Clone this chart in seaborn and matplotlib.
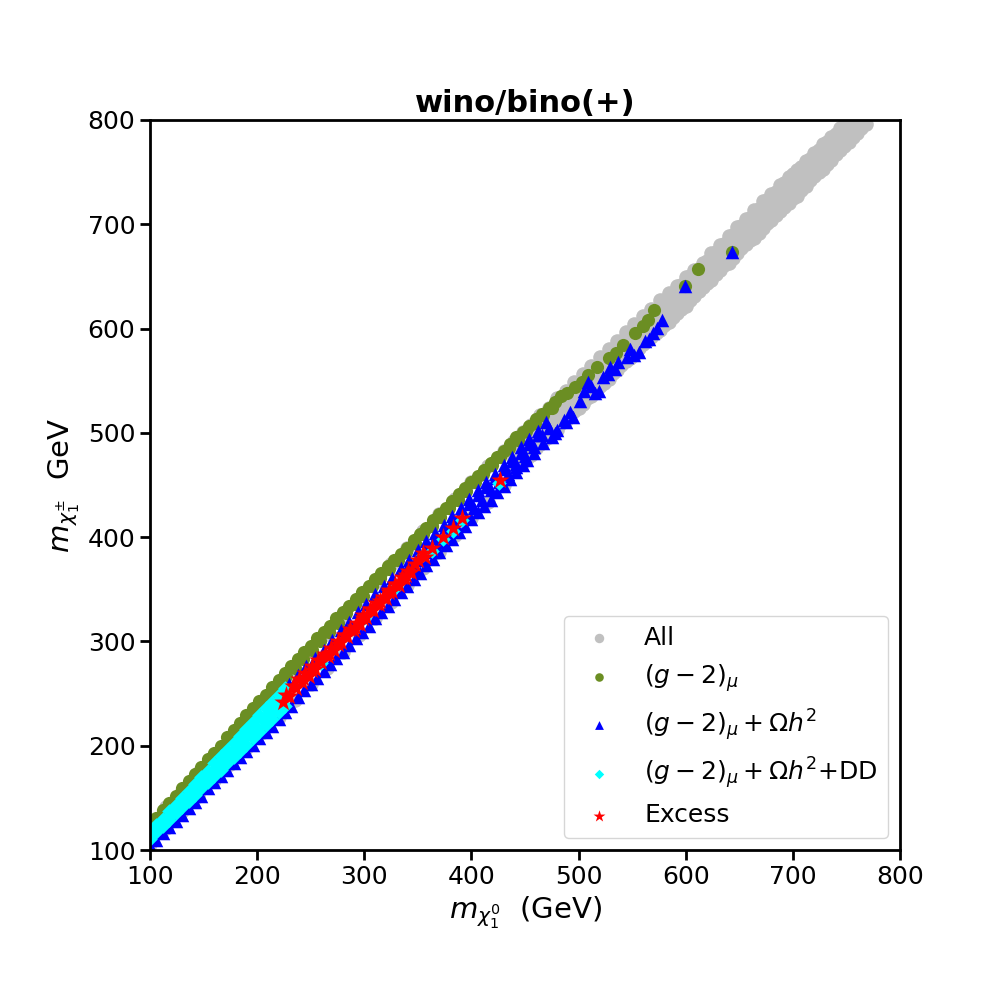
import pandas as pd
import matplotlib.pyplot as plt
import seaborn as sns

# Points: (m_chi10, m_chi1pm) in GeV.

# "All" sample: thin strips under the coloured points below 440 GeV
all_top_x = [100, 115, 130, 145, 160, 175, 190, 205, 220, 235, 250, 265, 280, 295, 310, 325, 340, 355, 370, 385, 400, 415, 430]
all_top_y = [124, 141, 157, 174, 191, 207, 224, 241, 257, 274, 291, 307, 324, 341, 357, 374, 390, 406, 422, 437, 453, 468, 483]
all_low_x = [100, 115, 130, 145, 160, 175, 190, 205, 220, 235, 250, 265, 280, 295, 310, 325, 340, 355, 370, 385, 400, 415, 430]
all_low_y = [106, 121, 137, 152, 167, 182, 198, 213, 228, 244, 259, 275, 290, 306, 322, 338, 354, 370, 386, 402, 418, 434, 450]
# "All" sample: wide part of the band above 440 GeV, rows from bottom to top
all_a_x = [440, 448, 456, 464, 472, 480, 488, 496, 504, 512, 520, 528, 536, 544, 552, 560, 568, 576, 584, 592, 600,
           608, 616, 624, 632, 640, 648, 656, 664, 672, 680, 688, 696, 704, 712, 720, 728, 736, 744, 752, 760, 768]
all_a_y = [463, 472, 479, 489, 496, 503, 512, 521, 528, 535, 545, 552, 560, 569, 575, 585, 592, 599, 606, 615, 622,
           631, 640, 647, 656, 663, 672, 681, 687, 696, 704, 713, 720, 727, 737, 746, 753, 762, 771, 779, 788, 796]
all_f_x = [444, 452, 460, 468, 476, 484, 492, 500, 508, 516, 524, 532, 540, 548, 556, 564, 572, 580, 588, 596, 604,
           612, 620, 628, 636, 644, 652, 660, 668, 676, 684, 692, 700, 708, 716, 724, 732, 740, 748, 756, 764]
all_f_y = [469, 476, 485, 493, 500, 509, 517, 524, 533, 541, 548, 557, 565, 572, 581, 588, 596, 603, 611, 619, 627,
           636, 644, 652, 661, 668, 677, 685, 692, 701, 709, 717, 725, 733, 742, 750, 758, 767, 775, 784, 792]
all_b_x = [444, 452, 460, 468, 476, 484, 492, 500, 508, 516, 524, 532, 540, 548, 556, 564, 572, 580, 588, 596, 604,
           612, 620, 628, 636, 644, 652, 660, 668, 676, 684, 692, 700, 708, 716, 724, 732, 740, 748, 756, 764]
all_b_y = [474, 481, 491, 498, 506, 515, 521, 530, 539, 546, 553, 562, 571, 578, 585, 594, 603, 610, 617, 626, 633,
           642, 651, 658, 665, 674, 682, 691, 698, 705, 714, 723, 730, 738, 747, 754, 763, 772, 780, 789, 796]
all_g_x = [440, 448, 456, 464, 472, 480, 488, 496, 504, 512, 520, 528, 536, 544, 552, 560, 568, 576, 584, 592, 600,
           608, 616, 624, 632, 640, 648, 656, 664, 672, 680, 688, 696, 704, 712, 720, 728, 736, 744, 752, 760]
all_g_y = [473, 482, 489, 497, 506, 513, 521, 530, 537, 545, 554, 561, 569, 578, 585, 593, 601, 609, 616, 625, 633,
           641, 649, 657, 665, 674, 681, 689, 698, 705, 713, 722, 729, 738, 745, 754, 762, 770, 779, 787, 795]
all_c_x = [440, 448, 456, 464, 472, 480, 488, 496, 504, 512, 520, 528, 536, 544, 552, 560, 568, 576, 584, 592, 600,
           608, 616, 624, 632, 640, 648, 656, 664, 672, 680, 688, 696, 704, 712, 720, 728, 736, 744, 752, 760]
all_c_y = [477, 486, 493, 500, 509, 518, 525, 532, 541, 550, 557, 564, 573, 582, 589, 596, 605, 613, 620, 629, 638,
           645, 652, 661, 670, 677, 684, 693, 702, 709, 716, 725, 734, 741, 748, 757, 766, 773, 782, 790, 797]
all_d_x = [444, 452, 460, 468, 476, 484, 492, 500, 508, 516, 524, 532, 540, 548, 556, 564, 572, 580, 588, 596,
           604, 612, 620, 628, 636, 644, 652, 660, 668, 676, 684, 692, 700, 708, 716, 724, 732, 740, 748, 756]
all_d_y = [488, 497, 504, 511, 520, 529, 536, 543, 552, 561, 568, 575, 584, 593, 600, 607, 616, 623, 632, 639,
           646, 655, 662, 671, 680, 687, 696, 705, 712, 719, 728, 737, 744, 751, 760, 767, 776, 785, 792, 800]
all_h_x = [444, 452, 460, 468, 476, 484, 492, 500, 508, 516, 524, 532, 540, 548, 556, 564, 572, 580, 588, 596,
           604, 612, 620, 628, 636, 644, 652, 660, 668, 676, 684, 692, 700, 708, 716, 724, 732, 740, 748, 756]
all_h_y = [492, 500, 508, 517, 524, 532, 540, 548, 556, 564, 572, 580, 588, 596, 604, 611, 619, 627, 634, 642,
           650, 657, 665, 673, 681, 690, 698, 706, 715, 723, 731, 740, 748, 755, 763, 771, 779, 787, 795, 803]
all_e_x = [440, 448, 456, 464, 472, 480, 488, 496, 504, 512, 520, 528, 536, 544, 552, 560, 568, 576, 584, 592,
           600, 608, 616, 624, 632, 640, 648, 656, 664, 672, 680, 688, 696, 704, 712, 720, 728, 736, 744, 752]
all_e_y = [492, 501, 508, 517, 524, 533, 540, 549, 556, 564, 573, 580, 588, 597, 604, 612, 619, 627, 634, 641,
           649, 656, 663, 672, 680, 689, 697, 705, 714, 722, 729, 738, 745, 752, 761, 768, 777, 784, 792, 799]

# (g-2)_mu: dense upper strip, second row, sparse tail
g2_top_x = [100, 106, 112, 118, 124, 130, 136, 142, 148, 154, 160, 166, 172, 178, 184, 190, 196, 202, 208, 214, 220, 226,
            232, 238, 244, 250, 256, 262, 268, 274, 280, 286, 292, 298, 304, 310, 316, 322, 328, 334, 340, 346, 352,
            358, 364, 370, 376, 382, 388, 394, 400, 406, 412, 418, 424, 430, 436, 442, 448, 454, 460, 466, 472, 478, 484]
g2_top_y = [124, 131, 138, 145, 152, 159, 166, 173, 180, 187, 193, 200, 208, 215, 222, 229, 236, 243, 249, 256, 263, 270,
            276, 283, 290, 296, 303, 309, 315, 322, 328, 334, 341, 347, 353, 360, 366, 372, 378, 384, 390, 397, 403,
            409, 416, 422, 428, 435, 441, 447, 453, 459, 464, 471, 477, 483, 489, 496, 501, 507, 513, 518, 524, 530, 535]
g2_mid_x = [203, 211, 219, 227, 235, 243, 251, 259, 267, 275, 283, 291, 299, 307, 315, 323, 331, 339,
            347, 355, 363, 371, 379, 387, 395, 403, 411, 419, 427, 435, 443, 451, 459, 467, 475]
g2_mid_y = [241, 249, 258, 267, 275, 283, 292, 300, 309, 318, 327, 336, 344, 353, 361, 369, 378, 386,
            394, 403, 411, 419, 428, 436, 444, 453, 461, 469, 477, 485, 493, 502, 509, 517, 524]
g2_tail_x = [489, 497, 503, 509, 517, 528, 535, 541, 553, 560, 565, 570, 599, 611, 643]
g2_tail_y = [538, 544, 549, 555, 563, 572, 577, 584, 596, 602, 608, 618, 641, 657, 673]

# (g-2)_mu + Omega h^2
om_edge_x = [100, 106, 112, 118, 124, 130, 136, 142, 148, 154, 160, 166, 172, 178, 184, 190, 196, 202, 208, 214, 220, 226, 232]
om_edge_y = [104, 110, 116, 122, 128, 134, 140, 146, 152, 159, 165, 171, 177, 183, 189, 195, 201, 207, 213, 219, 226, 232, 238]
om_low_x = [238, 244, 250, 256, 262, 268, 274, 280, 286, 292, 298, 304, 310, 316, 322, 328, 334, 340,
            346, 352, 358, 364, 370, 376, 382, 388, 394, 400, 406, 412, 418, 424, 430, 436, 442, 448]
om_low_y = [247, 253, 259, 265, 272, 278, 284, 290, 297, 303, 309, 315, 322, 328, 334, 341, 347, 353,
            360, 366, 373, 379, 386, 392, 398, 405, 411, 417, 424, 430, 436, 443, 449, 456, 462, 469]
om_up_x = [230, 238, 246, 254, 262, 270, 278, 286, 294, 302, 310, 318, 326, 334, 342]
om_up_y = [259, 268, 276, 284, 292, 301, 311, 319, 328, 336, 345, 353, 361, 370, 378]
om_r3_x = [346, 354, 362, 370, 378, 386, 394, 402, 410, 418, 426, 434, 442, 450, 458]
om_r3_y = [369, 378, 386, 395, 403, 411, 420, 428, 436, 445, 453, 461, 470, 478, 486]
om_r4_x = [342, 350, 358, 366, 374, 382, 390, 398, 406, 414, 422, 430, 438, 446, 454, 462]
om_r4_y = [374, 382, 390, 399, 407, 415, 424, 432, 440, 448, 457, 465, 473, 481, 489, 498]
om_r5_x = [350, 358, 366, 374, 382, 390, 398, 406, 414, 422, 430, 438, 446, 454, 462, 470]
om_r5_y = [388, 396, 404, 412, 420, 428, 437, 445, 453, 461, 469, 477, 486, 494, 502, 510]
om_tail_x = [442, 452, 458, 467, 466, 472, 475, 478, 480, 486, 488, 492, 495, 501, 505, 509, 512, 515,
             519, 523, 527, 529, 534, 537, 545, 548, 552, 556, 562, 566, 569, 573, 578, 599, 643]
om_tail_y = [467, 474, 481, 490, 498, 505, 496, 500, 503, 512, 510, 520, 515, 531, 540, 549, 545, 538,
             540, 554, 556, 563, 561, 568, 573, 580, 575, 578, 588, 590, 596, 601, 608, 641, 673]

# (g-2)_mu + Omega h^2 + DD
dd_r1_x = [100, 106, 112, 118, 124, 130, 136, 142, 148, 154, 160, 166, 172, 178, 184, 190, 196, 202, 208, 214, 220, 226]
dd_r1_y = [111, 117, 123, 129, 135, 141, 147, 153, 159, 165, 171, 177, 183, 189, 195, 201, 207, 213, 220, 226, 232, 238]
dd_r2_x = [103, 109, 115, 121, 127, 133, 139, 145, 151, 157, 163, 169, 175, 181, 187, 193, 199, 205, 211, 217, 223]
dd_r2_y = [118, 124, 130, 136, 143, 149, 155, 162, 168, 174, 181, 187, 193, 199, 206, 212, 218, 225, 231, 237, 244]
dd_r3_x = [100, 106, 112, 118, 124, 130, 136, 142, 148, 154, 160, 166, 172, 178, 184, 190, 196, 202, 208, 214, 220, 226]
dd_r3_y = [117, 124, 130, 137, 143, 150, 157, 163, 170, 176, 183, 190, 196, 203, 209, 216, 223, 229, 236, 242, 249, 255]
dd_tail_x = [260, 300, 330, 355, 363, 373, 383, 391, 426]
dd_tail_y = [279, 322, 352, 383, 387, 398, 406, 416, 452]

# Excess
ex_r1_x = [224, 230, 236, 242, 248, 254, 260, 266, 272, 278, 284, 290, 296, 302, 308, 314, 320, 326, 332, 338, 344]
ex_r1_y = [242, 248, 255, 261, 267, 274, 280, 286, 292, 299, 305, 311, 317, 323, 330, 336, 342, 348, 354, 361, 367]
ex_r3_x = [227, 235, 243, 251, 259, 267, 275, 283, 291, 299, 307, 315, 323, 331, 339]
ex_r3_y = [249, 257, 265, 273, 281, 289, 298, 306, 314, 322, 331, 339, 347, 355, 364]
ex_r2_x = [233, 239, 245, 251, 257, 263, 269, 275, 281, 287, 293, 299, 305, 311, 317, 323, 329, 335, 341, 347]
ex_r2_y = [257, 264, 270, 276, 282, 288, 294, 300, 306, 312, 318, 325, 331, 337, 343, 349, 355, 362, 368, 374]
ex_tail_x = [350, 357, 355, 363, 373, 383, 391, 427]
ex_tail_y = [378, 381, 385, 390, 400, 409, 418, 455]


def frame(xs, ys):
    return pd.DataFrame({'mn1': xs, 'mc1': ys})


df_all = frame(all_top_x + all_low_x + all_a_x + all_f_x + all_b_x + all_g_x + all_c_x + all_d_x + all_h_x + all_e_x,
               all_top_y + all_low_y + all_a_y + all_f_y + all_b_y + all_g_y + all_c_y + all_d_y + all_h_y + all_e_y)
df_g2 = frame(g2_top_x + g2_mid_x + g2_tail_x, g2_top_y + g2_mid_y + g2_tail_y)
df_om = frame(om_edge_x + om_low_x + om_up_x + om_r3_x + om_r4_x + om_r5_x + om_tail_x,
              om_edge_y + om_low_y + om_up_y + om_r3_y + om_r4_y + om_r5_y + om_tail_y)
df_dd = frame(dd_r1_x + dd_r2_x + dd_r3_x + dd_tail_x, dd_r1_y + dd_r2_y + dd_r3_y + dd_tail_y)
df_ex = frame(ex_r1_x + ex_r3_x + ex_r2_x + ex_tail_x, ex_r1_y + ex_r3_y + ex_r2_y + ex_tail_y)

fig, ax = plt.subplots(figsize=(10, 10), dpi=100)
fig.subplots_adjust(left=0.15, right=0.9, bottom=0.15, top=0.88)

sns.scatterplot(data=df_all, x='mn1', y='mc1', color='silver', marker='o', s=110, linewidth=0, label='All', ax=ax)
sns.scatterplot(data=df_g2, x='mn1', y='mc1', color='olivedrab', marker='o', s=90, linewidth=0,
                label=r'$(g-2)_\mu$', ax=ax)
sns.scatterplot(data=df_om, x='mn1', y='mc1', color='blue', marker='^', s=95, linewidth=0,
                label=r'$(g-2)_\mu+\Omega h^2$', ax=ax)
sns.scatterplot(data=df_dd, x='mn1', y='mc1', color='cyan', marker='D', s=55, linewidth=0,
                label=r'$(g-2)_\mu+\Omega h^2$+DD', ax=ax)
sns.scatterplot(data=df_ex, x='mn1', y='mc1', color='red', marker='*', s=190, linewidth=0, label='Excess', ax=ax)

ax.set_xlim(100, 800)
ax.set_ylim(100, 800)
ax.set_title('wino/bino(+)', fontsize=22, fontweight='bold')
ax.set_xlabel(r'$m_{\chi_1^0}$  (GeV)', fontsize=21)
ax.set_ylabel(r'$m_{\chi_1^{\pm}}$  GeV', fontsize=21)
ax.tick_params(labelsize=18, width=2, length=7)
for sp in ax.spines.values():
    sp.set_linewidth(2)
ax.legend(loc='lower right', fontsize=18, markerscale=0.65)

plt.savefig('out.png', dpi=100)
plt.close()
